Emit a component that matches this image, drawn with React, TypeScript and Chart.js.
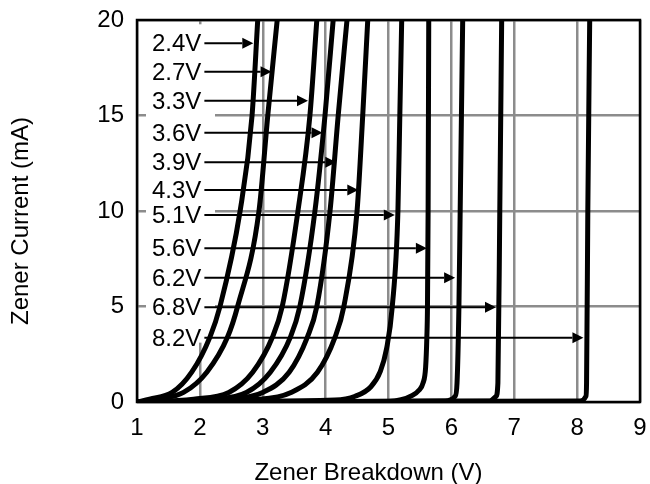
import React, { useEffect, useRef } from 'react';
import { Chart, registerables } from 'chart.js';

Chart.register(...registerables);

// Zener curves: breakdown voltage (V) vs current (mA)
const v24 = [1.0, 1.2, 1.56, 1.87, 2.16, 2.32, 2.64, 2.83, 2.92];
const i24 = [0, 0.15, 0.5, 1.56, 3.4, 5, 10, 15, 20];
const v27 = [1.0, 1.35, 1.74, 2.11, 2.44, 2.6, 2.94, 3.08, 3.23];
const i27 = [0, 0.15, 0.5, 1.56, 3.4, 5, 10, 15, 20];
const v33 = [1.0, 1.9, 2.46, 2.84, 3.155, 3.31, 3.56, 3.75, 3.86];
const i33 = [0, 0.15, 0.5, 1.56, 3.4, 5, 10, 15, 20];
const v36 = [1.0, 2.2, 2.74, 3.12, 3.44, 3.59, 3.83, 3.99, 4.12];
const i36 = [0, 0.15, 0.5, 1.56, 3.4, 5, 10, 15, 20];
const v39 = [1.0, 2.5, 3.0, 3.42, 3.71, 3.86, 4.07, 4.2, 4.34];
const i39 = [0, 0.15, 0.5, 1.56, 3.4, 5, 10, 15, 20];
const v43 = [1.0, 2.95, 3.45, 3.87, 4.15, 4.29, 4.5, 4.59, 4.67];
const i43 = [0, 0.15, 0.5, 1.56, 3.4, 5, 10, 15, 20];
const v51 = [1.0, 4.15, 4.47, 4.72, 4.87, 4.97, 5.06, 5.15, 5.18, 5.21];
const i51 = [0, 0.1, 0.3, 0.8, 1.6, 2.8, 5, 10, 15, 20];
const v56 = [1.0, 5.0, 5.2, 5.38, 5.48, 5.55, 5.59, 5.61, 5.62, 5.63, 5.64];
const i56 = [0, 0.03, 0.12, 0.35, 0.6, 1.0, 1.8, 3.4, 5, 10, 20];
const v62 = [1.0, 5.9, 6.06, 6.09, 6.12, 6.14, 6.18];
const i62 = [0, 0.05, 0.3, 1, 5, 10, 20];
const v68 = [1.0, 6.6, 6.71, 6.74, 6.77, 6.8];
const i68 = [0, 0.05, 0.3, 1, 10, 20];
const v82 = [1.0, 8.05, 8.14, 8.15, 8.17, 8.2];
const i82 = [0, 0.05, 0.3, 1, 10, 20];

const curveV = [v24, v27, v33, v36, v39, v43, v51, v56, v62, v68, v82];
const curveI = [i24, i27, i33, i36, i39, i43, i51, i56, i62, i68, i82];

// Labels with arrows
const labelNames = ['2.4V', '2.7V', '3.3V', '3.6V', '3.9V', '4.3V', '5.1V', '5.6V', '6.2V', '6.8V', '8.2V'];
const labelCurrents = [18.78, 17.29, 15.77, 14.1, 12.55, 11.1, 9.79, 8.05, 6.51, 4.96, 3.37];
const arrowTips = [2.85, 3.14, 3.72, 3.95, 4.17, 4.52, 5.1, 5.61, 6.06, 6.71, 8.1];

const xTitle = 'Zener Breakdown (V)';
const yTitle = 'Zener Current (mA)';

const FONT = '"Liberation Sans", Arial, sans-serif';

const overlay = {
  id: 'overlay',
  beforeDatasetsDraw(chart: any) {
    const { ctx, chartArea, scales } = chart;
    const y = scales.y;
    const top = y.getPixelForValue(labelCurrents[0]) - 19;
    const bottom = y.getPixelForValue(labelCurrents[labelCurrents.length - 1]) + 5;
    ctx.save();
    ctx.fillStyle = '#ffffff';
    ctx.fillRect(chartArea.left + 9, top, 69, bottom - top);
    ctx.restore();
  },
  afterDatasetsDraw(chart: any) {
    const { ctx, chartArea, scales } = chart;
    const x = scales.x;
    const y = scales.y;
    ctx.save();
    ctx.font = `24px ${FONT}`;
    ctx.fillStyle = '#000';
    ctx.strokeStyle = '#000';
    ctx.textAlign = 'left';
    ctx.textBaseline = 'alphabetic';
    labelNames.forEach((name, k) => {
      const py = y.getPixelForValue(labelCurrents[k]);
      const tx = chartArea.left + 15;
      ctx.fillText(name, tx, py + 8);
      const w = ctx.measureText(name).width;
      const sx = tx + w + 3;
      const ex = x.getPixelForValue(arrowTips[k]);
      const head = 11;
      ctx.lineWidth = 2;
      ctx.beginPath();
      ctx.moveTo(sx, py);
      ctx.lineTo(ex - head, py);
      ctx.stroke();
      ctx.beginPath();
      ctx.moveTo(ex, py);
      ctx.lineTo(ex - head, py - 5.5);
      ctx.lineTo(ex - head, py + 5.5);
      ctx.closePath();
      ctx.fill();
    });
    ctx.lineWidth = 2.5;
    ctx.strokeRect(chartArea.left, chartArea.top, chartArea.right - chartArea.left, chartArea.bottom - chartArea.top);
    ctx.restore();
  },
  afterDraw(chart: any) {
    const { ctx, chartArea } = chart;
    ctx.save();
    ctx.font = `24px ${FONT}`;
    ctx.fillStyle = '#000';
    ctx.textAlign = 'center';
    ctx.textBaseline = 'alphabetic';
    ctx.fillText(xTitle, (chartArea.left + chartArea.right) / 2 - 20, 480);
    ctx.translate(28, (chartArea.top + chartArea.bottom) / 2 + 10);
    ctx.rotate(-Math.PI / 2);
    ctx.fillText(yTitle, 0, 0);
    ctx.restore();
  },
};

export default function App() {
  const ref = useRef<HTMLCanvasElement | null>(null);
  useEffect(() => {
    if (!ref.current) return;
    const datasets = curveV.map((vs, k) => ({
      label: labelNames[k],
      data: vs.map((v, j) => ({ x: v, y: curveI[k][j] })),
      borderColor: '#000',
      borderWidth: 5,
      pointRadius: 0,
      fill: false,
      cubicInterpolationMode: 'monotone' as const,
      borderCapStyle: 'round' as const,
      borderJoinStyle: 'round' as const,
    }));
    const chart = new Chart(ref.current, {
      type: 'line',
      data: { datasets },
      plugins: [overlay],
      options: {
        animation: false,
        responsive: false,
        events: [],
        layout: { padding: { top: 20, right: 10, left: 0, bottom: 0 } },
        plugins: { legend: { display: false }, tooltip: { enabled: false } },
        scales: {
          x: {
            type: 'linear',
            min: 1,
            max: 9,
            afterFit: (s: any) => { s.height = 82; s.paddingLeft = 0; s.paddingRight = 0; },
            ticks: { stepSize: 1, color: '#000', padding: 12, font: { size: 24, family: FONT } },
            grid: { color: '#8c8c8c', lineWidth: 2.5, drawTicks: false },
            border: { display: false },
          },
          y: {
            type: 'linear',
            min: 0,
            max: 20,
            afterFit: (s: any) => { s.width = 137; s.paddingTop = 0; s.paddingBottom = 0; },
            ticks: { stepSize: 5, color: '#000', padding: 13, font: { size: 24, family: FONT } },
            grid: { color: '#8c8c8c', lineWidth: 2.5, drawTicks: false },
            border: { display: false },
          },
        },
      },
    });
    return () => chart.destroy();
  }, []);
  return (
    <div style={{ position: 'absolute', left: 0, top: 0, width: 650, height: 484, background: '#fff' }}>
      <canvas ref={ref} width={650} height={484} style={{ display: 'block' }} />
    </div>
  );
}
